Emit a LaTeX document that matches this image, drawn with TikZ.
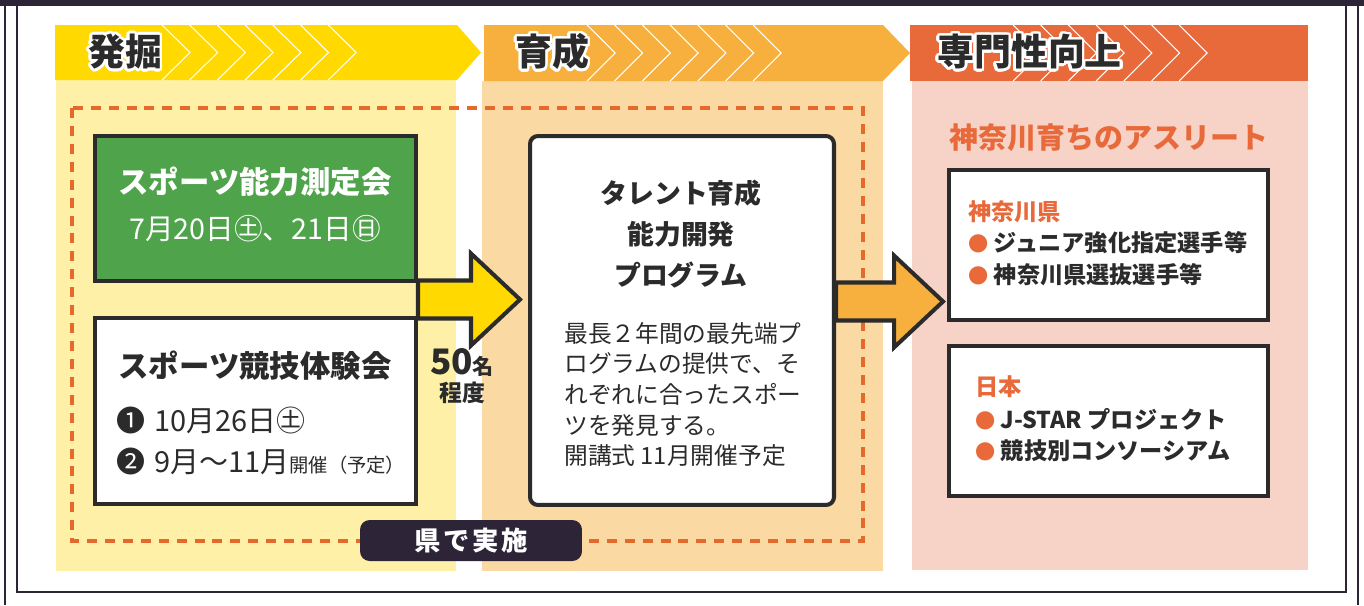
\documentclass[tikz,border=0pt]{standalone}
\usepackage{fontspec}
\setmainfont{Noto Sans CJK JP}
\usepackage{contour}
\contourlength{1.5pt}
\contournumber{24}
\usetikzlibrary{calc}
\definecolor{khung}{HTML}{2D2438}
\definecolor{chu}{HTML}{2B2B2B}
\definecolor{vang}{HTML}{FFD900}
\definecolor{vangnhat}{HTML}{FEF0A6}
\definecolor{cam}{HTML}{F7B03E}
\definecolor{camnhat}{HTML}{FAD9A2}
\definecolor{camdo}{HTML}{E8693A}
\definecolor{hong}{HTML}{F7D2C7}
\definecolor{xanh}{HTML}{4FA44B}
\definecolor{netdut}{HTML}{E5692B}
\tikzset{
	hop/.style={draw=chu, line width=2.3pt, fill=white, inner sep=0pt},
	muiten/.style={draw=chu, line width=2.3pt},
	chevron/.style={white, line width=0.6pt},
	chuthuong/.style={inner sep=0pt, text=chu},
	tieude/.style={anchor=west, inner sep=0pt, text=chu, font=\fontsize{21}{24}\selectfont\bfseries},
	dong/.style={anchor=west, inner sep=0pt, text=chu, font=\fontsize{13.2}{16}\selectfont\bfseries}
}
\newcommand{\cham}{{\color{camdo}\fontsize{11.5}{13}\selectfont●}\kern3pt}
% mũi tên to: #1 màu, #2 đuôi, #3 đỉnh
\newcommand{\veMuiTen}[3]{%
	\draw[muiten, fill=#1] ($(#2)+(0,-19)$) -- ($(#3)+(-49,-19)$) -- ($(#3)+(-49,-46)$) -- (#3)
	-- ($(#3)+(-49,46)$) -- ($(#3)+(-49,19)$) -- ($(#2)+(0,19)$) -- cycle;}
\begin{document}
\begin{tikzpicture}[x=0.02cm, y=-0.02cm]
	\useasboundingbox (0,0) rectangle (1364,605);
	% khung
	\fill[khung] (0,0) rectangle (1364,5.5);
	\draw[khung, line width=1.2pt] (5,0) -- (5,605) (1358,0) -- (1358,605);
	\draw[khung, line width=1.6pt] (17,0) -- (17,592) -- (1346,592) -- (1346,0);
	% nền
	\fill[vangnhat] (56,80) rectangle (456,571);
	\fill[camnhat] (482,81) rectangle (883,571);
	\fill[hong] (912,81) rectangle (1308,570);
	\fill[vang] (55,25) -- (457,25) -- (481,52.5) -- (457,80) -- (55,80) -- cycle;
	\fill[cam] (484,25) -- (883,25) -- (910,53) -- (883,81) -- (484,81) -- cycle;
	\fill[camdo] (910,25) rectangle (1308,81);
	\foreach \i in {0,...,6}{
		\draw[chevron] (162+27.7*\i,25) -- ++(28,27.5) -- ++(-28,27.5);
		\draw[chevron] (587+27.7*\i,25) -- ++(28,28) -- ++(-28,28);
		\draw[chevron] (1013+27.7*\i,25) -- ++(28,28) -- ++(-28,28);
	}
	\node[tieude] (dao) at (88,53) {\contour{white}{発掘}};
	\node[tieude] (duong) at (515,53) {\contour{white}{育成}};
	\node[tieude] (nang) at (937,53) {\contour{white}{専門性向上}};
	\draw[netdut, line width=2.3pt, dash pattern=on 5.7pt off 4.5pt] (72,108) rectangle (863,541);
	% các hộp
	\node[hop, fill=xanh, minimum width=6.42cm, minimum height=2.9cm] (thi) at (255.5,208.5) {};
	\node[hop, minimum width=6.42cm, minimum height=3.72cm] (trai) at (255.5,411) {};
	\node[hop, rounded corners=4.5pt, minimum width=6.08cm, minimum height=7.38cm] (prog) at (682,320.5) {};
	\node[hop, minimum width=6.38cm, minimum height=3cm] (vdvA) at (1108.5,245) {};
	\node[hop, minimum width=6.38cm, minimum height=3cm] (vdvB) at (1108.5,421) {};
	\coordinate (duoiA) at ($(thi.south east)!.5!(trai.north east)$);
	\coordinate (dichA) at ($(prog.west |- duoiA)+(-8,0)$);
	\coordinate (duoiB) at ($(prog.east)+(0,-19)$);
	\coordinate (dichB) at ($(vdvA.west |- duoiB)+(-4,0)$);
	\veMuiTen{vang}{duoiA}{dichA}
	\veMuiTen{cam}{duoiB}{dichB}
	% chữ
	\node[chuthuong, text=white, font=\fontsize{17.3}{20}\selectfont\bfseries] (thiA) at (255,182) {スポーツ能力測定会};
	\node[chuthuong, text=white, font=\fontsize{16.3}{19}\selectfont] (thiB) at (255,229) {7月20日㊏、21日㊐};
	\node[chuthuong, font=\fontsize{17.3}{20}\selectfont\bfseries] (traiA) at (255,366) {スポーツ競技体験会};
	\node[chuthuong, anchor=west, font=\fontsize{16.5}{19}\selectfont] (traiB) at (116,420) {❶\kern5pt 10月26日㊏};
	\node[chuthuong, anchor=west, font=\fontsize{16.5}{19}\selectfont] (traiC) at (116,461) {❷\kern5pt 9月〜11月{\fontsize{11}{13}\selectfont 開催（予定）}};
	\node[chuthuong, font=\fontsize{20}{22}\selectfont\bfseries] (soNguoi) at (462,362) {50{\fontsize{12}{14}\selectfont 名}};
	\node[chuthuong, font=\fontsize{13}{15}\selectfont\bfseries] (khoang) at (462,393) {程度};
	\node[chuthuong, align=center, font=\fontsize{15.3}{23.2}\selectfont\bfseries] (progA) at (681,234) {タレント育成\\能力開発\\プログラム};
	\node[chuthuong, anchor=north west, align=left, font=\fontsize{13.5}{17.4}\selectfont] (progB) at (564,322) {最長２年間の最先端プ\\ログラムの提供で、そ\\れぞれに合ったスポー\\ツを発見する。\\開講式 11月開催予定};
	\node[chuthuong, anchor=west, text=camdo, font=\fontsize{16.5}{19}\selectfont\bfseries] (dich) at (949,138) {神奈川育ちのアスリート};
	\node[dong, text=camdo] (vdvA1) at (968,212) {神奈川県};
	\node[dong] (vdvA2) at (968,243) {\cham ジュニア強化指定選手等};
	\node[dong] (vdvA3) at (968,275) {\cham 神奈川県選抜選手等};
	\node[dong, text=camdo] (vdvB1) at (975,387) {日本};
	\node[dong] (vdvB2) at (975,419) {\cham J-STAR プロジェクト};
	\node[dong] (vdvB3) at (975,451) {\cham 競技別コンソーシアム};
	\node[fill=khung, rounded corners=5.5pt, minimum width=4.44cm, minimum height=0.82cm, text=white, font=\fontsize{15}{18}\selectfont\bfseries] (tinh) at (471,540.5) {県\kern1.5pt で\kern1.5pt 実\kern1.5pt 施};
\end{tikzpicture}
\end{document}
